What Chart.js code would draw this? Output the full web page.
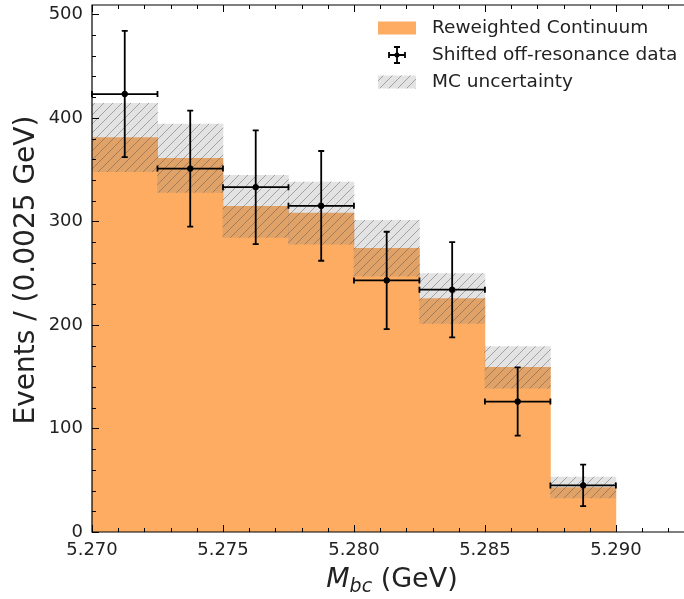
<!DOCTYPE html>
<html lang="en">
<head>
<meta charset="UTF-8">
<title>Reweighted continuum vs off-resonance data</title>
<script src="https://cdn.jsdelivr.net/npm/chart.js"></script>
<style>
    body { margin: 0; padding: 0; background: #fff; }
    #chart { display: block; }
</style>
</head>
<body>
<canvas id="chart" width="684" height="599"></canvas>
<script>
// bins of 0.0025 GeV in Mbc
const binCenters = [5.27125, 5.27375, 5.27625, 5.27875, 5.28125, 5.28375, 5.28625, 5.28875];
const binHalfWidth = 0.00125;
const continuum = [381, 361, 314.5, 308, 274, 225.5, 159, 43];
const mcUnc = [33, 33, 30, 30, 27, 24, 20, 10];
const dataVals = [423, 351, 333, 315, 243, 234, 126, 45];
const dataErr = [61, 56, 55, 53, 47, 46, 33, 20];
const xTicks = [5.270, 5.275, 5.280, 5.285, 5.290];
const yTicks = [0, 100, 200, 300, 400, 500];
const legendLabels = ['Reweighted Continuum', 'Shifted off-resonance data', 'MC uncertainty'];

const ORANGE = '#fdac62';
const FONT = 'DejaVu Sans';

function hatchPattern() {
    const s = 9;
    const c = document.createElement('canvas');
    c.width = s; c.height = s;
    const g = c.getContext('2d');
    g.fillStyle = 'rgba(128,128,128,0.22)';
    g.fillRect(0, 0, s, s);
    g.strokeStyle = 'rgba(80,80,80,0.45)';
    g.lineWidth = 1;
    g.beginPath();
    g.moveTo(-1, s + 1); g.lineTo(s + 1, -1);
    g.moveTo(-1, 1); g.lineTo(1, -1);
    g.moveTo(s - 1, s + 1); g.lineTo(s + 1, s - 1);
    g.stroke();
    return g.createPattern(c, 'repeat');
}
const HATCH = hatchPattern();

// plot area runs right up to the canvas edge, like the original figure
const stretchRight = {
    id: 'stretchRight',
    afterLayout(chart) {
        const x = chart.scales.x;
        x.right = chart.width;
        x.width = x.right - x.left;
        x.configure();
        chart.chartArea.right = chart.width;
        chart.chartArea.width = chart.chartArea.right - chart.chartArea.left;
    }
};

// error bars, frame with inward ticks, legend and axis titles
const decorations = {
    id: 'decorations',
    afterDatasetsDraw(chart) {
        const ctx = chart.ctx;
        const x = chart.scales.x, y = chart.scales.y;
        const a = chart.chartArea;

        // error bars
        ctx.save();
        ctx.strokeStyle = '#000';
        ctx.lineWidth = 1.8;
        for (let i = 0; i < binCenters.length; i++) {
            const cx = x.getPixelForValue(binCenters[i]);
            const cy = y.getPixelForValue(dataVals[i]);
            const x0 = x.getPixelForValue(binCenters[i] - binHalfWidth);
            const x1 = x.getPixelForValue(binCenters[i] + binHalfWidth);
            const y0 = y.getPixelForValue(dataVals[i] - dataErr[i]);
            const y1 = y.getPixelForValue(dataVals[i] + dataErr[i]);
            ctx.beginPath();
            ctx.moveTo(x0, cy); ctx.lineTo(x1, cy);
            ctx.moveTo(cx, y0); ctx.lineTo(cx, y1);
            ctx.moveTo(x0, cy - 3); ctx.lineTo(x0, cy + 3);
            ctx.moveTo(x1, cy - 3); ctx.lineTo(x1, cy + 3);
            ctx.moveTo(cx - 3, y0); ctx.lineTo(cx + 3, y0);
            ctx.moveTo(cx - 3, y1); ctx.lineTo(cx + 3, y1);
            ctx.stroke();
        }
        ctx.restore();

        // frame + inward ticks (right side falls on the canvas edge)
        ctx.save();
        ctx.strokeStyle = '#000';
        ctx.lineWidth = 1;
        ctx.beginPath();
        for (let v = 5.270; v < 5.2926; v += 0.001) {
            const px = Math.round(x.getPixelForValue(v)) + 0.5;
            const major = Math.abs(v * 200 - Math.round(v * 200)) < 1e-6;
            const len = major ? 7 : 4;
            ctx.moveTo(px, a.bottom); ctx.lineTo(px, a.bottom - len);
            ctx.moveTo(px, a.top); ctx.lineTo(px, a.top + len);
        }
        for (let v = 0; v <= 510; v += 20) {
            const py = Math.round(y.getPixelForValue(v)) + 0.5;
            const len = v % 100 === 0 ? 7 : 4;
            ctx.moveTo(a.left, py); ctx.lineTo(a.left + len, py);
        }
        ctx.stroke();
        ctx.lineWidth = 1.2;
        ctx.beginPath();
        ctx.moveTo(a.right, a.top); ctx.lineTo(a.left, a.top);
        ctx.lineTo(a.left, a.bottom); ctx.lineTo(a.right, a.bottom);
        ctx.stroke();
        ctx.restore();

        // legend
        ctx.save();
        const lx = 378, lw = 38, tx = 432;
        const rows = [28, 55, 82];
        ctx.fillStyle = ORANGE;
        ctx.fillRect(lx, rows[0] - 6.5, lw, 13);
        ctx.fillStyle = '#fff';
        ctx.fillRect(lx, rows[2] - 6.5, lw, 13);
        ctx.fillStyle = HATCH;
        ctx.fillRect(lx, rows[2] - 6.5, lw, 13);
        ctx.strokeStyle = '#000';
        ctx.lineWidth = 1.8;
        ctx.beginPath();
        const mx = lx + lw / 2;
        ctx.moveTo(mx - 8, rows[1]); ctx.lineTo(mx + 8, rows[1]);
        ctx.moveTo(mx, rows[1] - 8); ctx.lineTo(mx, rows[1] + 8);
        ctx.moveTo(mx - 8, rows[1] - 3); ctx.lineTo(mx - 8, rows[1] + 3);
        ctx.moveTo(mx + 8, rows[1] - 3); ctx.lineTo(mx + 8, rows[1] + 3);
        ctx.moveTo(mx - 3, rows[1] - 8); ctx.lineTo(mx + 3, rows[1] - 8);
        ctx.moveTo(mx - 3, rows[1] + 8); ctx.lineTo(mx + 3, rows[1] + 8);
        ctx.stroke();
        ctx.fillStyle = '#000';
        ctx.beginPath();
        ctx.arc(mx, rows[1], 2.5, 0, Math.PI * 2);
        ctx.fill();
        ctx.fillStyle = '#222';
        ctx.font = '18.5px "' + FONT + '"';
        ctx.textBaseline = 'middle';
        ctx.textAlign = 'left';
        legendLabels.forEach((t, i) => ctx.fillText(t, tx, rows[i]));
        ctx.restore();

        // axis titles
        ctx.save();
        ctx.fillStyle = '#222';
        ctx.textBaseline = 'alphabetic';
        const big = '27px "' + FONT + '"';
        const ital = 'oblique 27px "' + FONT + '"';
        const sub = 'oblique 19px "' + FONT + '"';
        ctx.font = ital; const wM = ctx.measureText('M').width;
        ctx.font = sub; const wS = ctx.measureText('bc').width;
        ctx.font = big; const wG = ctx.measureText(' (GeV)').width;
        let sx = 392 - (wM + wS + wG) / 2;
        const base = 587;
        ctx.textAlign = 'left';
        ctx.font = ital; ctx.fillText('M', sx, base); sx += wM;
        ctx.font = sub; ctx.fillText('bc', sx, base + 5); sx += wS;
        ctx.font = big; ctx.fillText(' (GeV)', sx, base);

        ctx.translate(34, 270);
        ctx.rotate(-Math.PI / 2);
        ctx.textAlign = 'center';
        ctx.textBaseline = 'alphabetic';
        ctx.font = '28px "' + FONT + '"';
        ctx.fillText('Events / (0.0025 GeV)', 0, 0);
        ctx.restore();
    }
};

new Chart(document.getElementById('chart'), {
    type: 'bar',
    data: {
        datasets: [{
            type: 'scatter',
            data: binCenters.map((c, i) => ({ x: c, y: dataVals[i] })),
            backgroundColor: '#000',
            borderColor: '#000',
            pointRadius: 2.8,
            order: 0
        }, {
            data: binCenters.map((c, i) => ({ x: c, y: [continuum[i] - mcUnc[i], continuum[i] + mcUnc[i]] })),
            backgroundColor: HATCH,
            borderWidth: 0,
            grouped: false,
            barPercentage: 1,
            categoryPercentage: 1,
            order: 1
        }, {
            data: binCenters.map((c, i) => ({ x: c, y: continuum[i] })),
            backgroundColor: ORANGE,
            borderWidth: 0,
            grouped: false,
            barPercentage: 1,
            categoryPercentage: 1,
            order: 2
        }]
    },
    options: {
        responsive: false,
        animation: false,
        layout: { padding: { top: 4, right: 0, left: 0, bottom: 0 } },
        plugins: { legend: { display: false }, tooltip: { enabled: false } },
        scales: {
            x: {
                type: 'linear',
                min: 5.270,
                max: 5.2926,
                offset: false,
                grid: { display: false, drawTicks: false },
                border: { display: false },
                afterBuildTicks: s => { s.ticks = xTicks.map(v => ({ value: v })); },
                afterFit: s => { s.height = 67; s.paddingLeft = 0; s.paddingRight = 0; },
                ticks: {
                    padding: 8,
                    maxRotation: 0,
                    color: '#222',
                    font: { family: FONT, size: 18 },
                    callback: v => v.toFixed(3)
                }
            },
            y: {
                min: 0,
                max: 509,
                grid: { display: false, drawTicks: false },
                border: { display: false },
                afterBuildTicks: s => { s.ticks = yTicks.map(v => ({ value: v })); },
                afterFit: s => { s.width = 92; s.paddingTop = 0; s.paddingBottom = 0; },
                ticks: {
                    padding: 9,
                    color: '#222',
                    font: { family: FONT, size: 18 }
                }
            }
        }
    },
    plugins: [stretchRight, decorations]
});
</script>
</body>
</html>
